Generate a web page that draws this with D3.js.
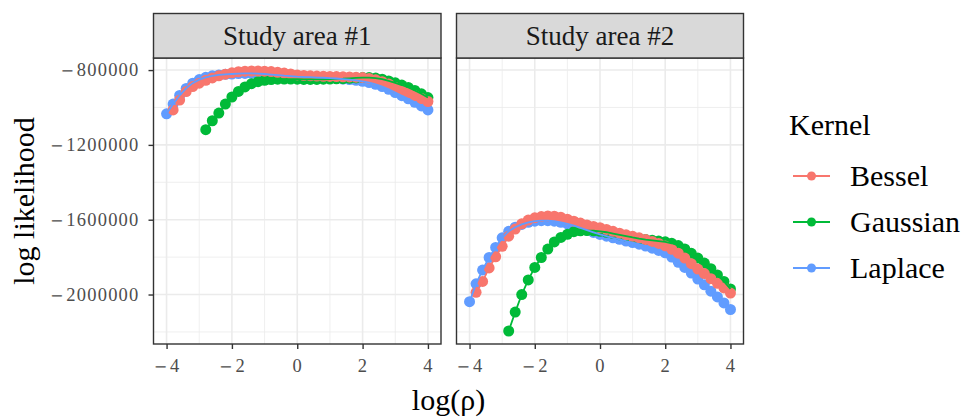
<!DOCTYPE html>
<html>
<head>
<meta charset="utf-8">
<script src="https://cdn.jsdelivr.net/npm/d3@7"></script>
<style>
  body { margin: 0; background: #fff; }
  svg { display: block; }
</style>
</head>
<body>
<svg id="chart" width="968" height="418"></svg>
<script>
// log likelihood por kernel, duas areas de estudo (valores em milhares)
const LOG_RHO = [-4, -3.8, -3.6, -3.4, -3.2, -3, -2.8, -2.6, -2.4, -2.2,
  -2, -1.8, -1.6, -1.4, -1.2, -1, -0.8, -0.6, -0.4, -0.2,
  0, 0.2, 0.4, 0.6, 0.8, 1, 1.2, 1.4, 1.6, 1.8,
  2, 2.2, 2.4, 2.6, 2.8, 3, 3.2, 3.4, 3.6, 3.8, 4];

const KERNELS = ["Bessel", "Gaussian", "Laplace"];
const KERNEL_COLORS = ["#F8766D", "#00BA38", "#619CFF"];
const PANELS = ["Study area #1", "Study area #2"];

// area 1
const BESSEL_1 = [null, -1013, -960, -915, -888, -870, -855, -842, -831, -822,
  -815, -809, -806, -805, -805, -806, -808, -812, -816, -821,
  -826, -829, -831, -832, -833, -834, -835, -836, -837, -838,
  -840, -845, -852, -862, -875, -893, -908, -922, -937, -952, -968];
const GAUSSIAN_1 = [null, null, null, null, null, null, -1119, -1071, -1030, -982,
  -944, -914, -890, -873, -862, -855, -851, -849, -848, -848,
  -849, -850, -850, -850, -849, -848, -847, -846, -844, -842,
  -840, -840, -843, -849, -858, -868, -880, -893, -909, -927, -947];
const LAPLACE_1 = [-1034, -982, -936, -898, -870, -851, -839, -831, -826, -823,
  -821, -819, -818, -818, -819, -821, -824, -827, -830, -832,
  -835, -837, -838, -840, -841, -843, -845, -848, -851, -855,
  -860, -867, -876, -888, -903, -920, -937, -954, -972, -992, -1013];

// area 2
const BESSEL_2 = [null, -1988, -1930, -1858, -1798, -1742, -1688, -1650, -1622, -1602,
  -1590, -1583, -1580, -1581, -1587, -1597, -1608, -1618, -1628, -1636,
  -1643, -1652, -1662, -1672, -1681, -1689, -1697, -1706, -1716, -1727,
  -1740, -1758, -1779, -1805, -1835, -1864, -1888, -1915, -1940, -1965, -1992];
const GAUSSIAN_2 = [null, null, null, null, null, null, -2195, -2094, -2000, -1922,
  -1855, -1802, -1757, -1719, -1695, -1678, -1664, -1659, -1658, -1659,
  -1662, -1667, -1674, -1681, -1688, -1695, -1701, -1706, -1710, -1714,
  -1718, -1726, -1738, -1756, -1780, -1805, -1832, -1862, -1895, -1930, -1970];
const LAPLACE_2 = [-2038, -1943, -1869, -1802, -1748, -1697, -1662, -1640, -1625, -1614,
  -1608, -1605, -1605, -1608, -1614, -1622, -1632, -1644, -1656, -1668,
  -1679, -1688, -1697, -1705, -1714, -1722, -1731, -1741, -1752, -1764,
  -1777, -1800, -1828, -1855, -1885, -1917, -1948, -1982, -2013, -2045, -2080];

const SERIES = [[BESSEL_1, GAUSSIAN_1, LAPLACE_1], [BESSEL_2, GAUSSIAN_2, LAPLACE_2]];

const X_TICKS = [-4, -2, 0, 2, 4];
const X_MINOR = [-3, -1, 1, 3];
const Y_TICKS = [-800000, -1200000, -1600000, -2000000];
const Y_MINOR = [-1000000, -1400000, -1800000, -2200000];

const SERIF = "'Liberation Serif', 'Times New Roman', serif";
const PANEL_BOX = [
  { left: 153.5, right: 441 },
  { left: 456.5, right: 743.5 },
];
const STRIP = { top: 13.5, bottom: 58 };
const PLOT = { top: 58, bottom: 344 };

const d3 = window.d3;
const svg = d3.select("#chart");

function pad(ext) {
  const r = ext[1] - ext[0];
  return [ext[0] - r * 0.05, ext[1] + r * 0.05];
}

const toRows = (vals) =>
  LOG_RHO.map((x, i) => ({ x, y: vals[i] == null ? null : vals[i] * 1000 })).filter((d) => d.y != null);

const allY = SERIES.flat(2).filter((v) => v != null).map((v) => v * 1000);
const yScale = d3.scaleLinear().domain(pad(d3.extent(allY))).range([PLOT.bottom, PLOT.top]);
const xDomain = pad(d3.extent(LOG_RHO));

PANEL_BOX.forEach((box, p) => {
  const xScale = d3.scaleLinear().domain(xDomain).range([box.left, box.right]);
  const g = svg.append("g");
  const w = box.right - box.left;

  // grade
  g.append("rect").attr("x", box.left).attr("y", PLOT.top).attr("width", w)
    .attr("height", PLOT.bottom - PLOT.top).attr("fill", "#fff");
  const grid = g.append("g").attr("stroke", "#EBEBEB");
  Y_MINOR.forEach((v) => grid.append("line").attr("x1", box.left).attr("x2", box.right)
    .attr("y1", yScale(v)).attr("y2", yScale(v)).attr("stroke-width", 0.8));
  X_MINOR.forEach((v) => grid.append("line").attr("y1", PLOT.top).attr("y2", PLOT.bottom)
    .attr("x1", xScale(v)).attr("x2", xScale(v)).attr("stroke-width", 0.8));
  Y_TICKS.forEach((v) => grid.append("line").attr("x1", box.left).attr("x2", box.right)
    .attr("y1", yScale(v)).attr("y2", yScale(v)).attr("stroke-width", 1.6));
  X_TICKS.forEach((v) => grid.append("line").attr("y1", PLOT.top).attr("y2", PLOT.bottom)
    .attr("x1", xScale(v)).attr("x2", xScale(v)).attr("stroke-width", 1.6));

  const clip = "clip" + p;
  svg.append("clipPath").attr("id", clip).append("rect")
    .attr("x", box.left).attr("y", PLOT.top).attr("width", w).attr("height", PLOT.bottom - PLOT.top);
  const marks = g.append("g").attr("clip-path", `url(#${clip})`);

  // pontos primeiro (laplace embaixo, bessel por cima), linhas depois
  [2, 1, 0].forEach((k) => {
    marks.append("g").selectAll("circle").data(toRows(SERIES[p][k])).join("circle")
      .attr("cx", (d) => xScale(d.x)).attr("cy", (d) => yScale(d.y)).attr("r", 5.5)
      .attr("fill", KERNEL_COLORS[k]);
  });
  const line = d3.line().x((d) => xScale(d.x)).y((d) => yScale(d.y));
  [0, 1, 2].forEach((k) => {
    marks.append("path").attr("d", line(toRows(SERIES[p][k])))
      .attr("fill", "none").attr("stroke", KERNEL_COLORS[k]).attr("stroke-width", 1.8);
  });

  g.append("rect").attr("x", box.left).attr("y", PLOT.top).attr("width", w)
    .attr("height", PLOT.bottom - PLOT.top).attr("fill", "none")
    .attr("stroke", "#333333").attr("stroke-width", 1.4);

  // faixa do painel
  g.append("rect").attr("x", box.left).attr("y", STRIP.top).attr("width", w)
    .attr("height", STRIP.bottom - STRIP.top).attr("fill", "#D9D9D9")
    .attr("stroke", "#333333").attr("stroke-width", 1.4);
  g.append("text").attr("x", (box.left + box.right) / 2).attr("y", 44.5)
    .attr("text-anchor", "middle").attr("font-family", SERIF).attr("font-size", 27)
    .attr("fill", "#1A1A1A").text(PANELS[p]);

  const xAxis = g.append("g").attr("transform", `translate(0,${PLOT.bottom})`)
    .call(d3.axisBottom(xScale).tickValues(X_TICKS).tickSize(5).tickPadding(10));
  styleAxis(xAxis);

  if (p === 0) {
    const yAxis = g.append("g").attr("transform", `translate(${box.left},0)`)
      .call(d3.axisLeft(yScale).tickValues(Y_TICKS).tickSize(5).tickPadding(9));
    styleAxis(yAxis);
  }
});

function styleAxis(a) {
  a.select(".domain").remove();
  a.selectAll("line").attr("stroke", "#333333").attr("stroke-width", 1.4);
  a.attr("font-family", null).attr("font-size", null);
  // sinal de menos longo e separado dos digitos, como no original
  a.selectAll("text").attr("fill", "#4D4D4D").attr("font-family", SERIF)
    .attr("font-size", 18.5).attr("letter-spacing", 1.2)
    .each(function (d) {
      const t = d3.select(this).text(null);
      if (d < 0) {
        t.append("tspan").attr("font-family", "'DejaVu Serif', serif").attr("font-size", 16)
          .attr("letter-spacing", 0).text("\u2212");
      }
      t.append("tspan").attr("dx", d < 0 ? 3 : 0).text(Math.abs(d));
    });
}

// titulos
svg.append("text").attr("x", (PANEL_BOX[0].left + PANEL_BOX[1].right) / 2).attr("y", 410)
  .attr("text-anchor", "middle").attr("font-family", SERIF).attr("font-size", 30)
  .attr("fill", "#000").text("log(ρ)");
svg.append("text").attr("transform", `translate(34,${(PLOT.top + PLOT.bottom) / 2}) rotate(-90)`)
  .attr("text-anchor", "middle").attr("font-family", SERIF).attr("font-size", 30)
  .attr("fill", "#000").text("log likelihood");

// legenda
const legend = svg.append("g");
legend.append("text").attr("x", 789).attr("y", 135).attr("font-family", SERIF)
  .attr("font-size", 30).attr("fill", "#000").text("Kernel");
KERNELS.forEach((name, k) => {
  const y = 176 + k * 46;
  legend.append("line").attr("x1", 793).attr("x2", 830).attr("y1", y).attr("y2", y)
    .attr("stroke", KERNEL_COLORS[k]).attr("stroke-width", 2);
  legend.append("circle").attr("cx", 811.5).attr("cy", y).attr("r", 4.5).attr("fill", KERNEL_COLORS[k]);
  legend.append("text").attr("x", 850).attr("y", y + 10).attr("font-family", SERIF)
    .attr("font-size", 30).attr("fill", "#000").text(name);
});
</script>
</body>
</html>
